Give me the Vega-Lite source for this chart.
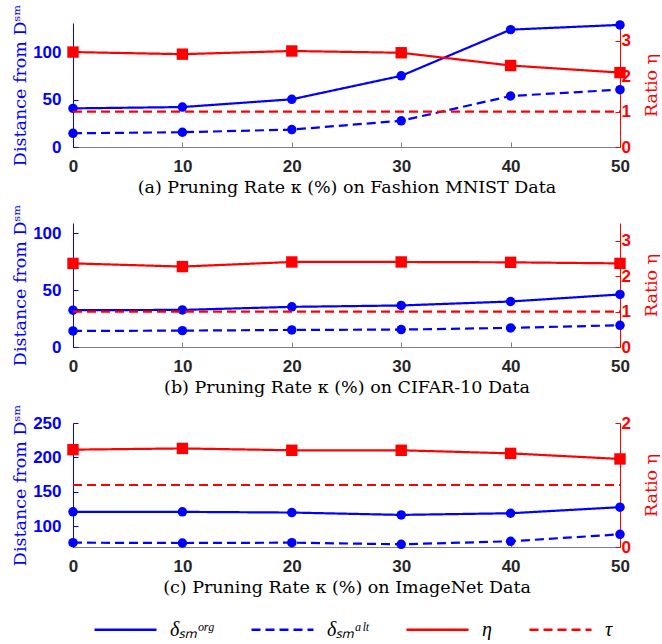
{
  "$schema": "https://vega.github.io/schema/vega-lite/v6.json",
  "background": "white",
  "padding": {"left": 10, "right": 0, "top": 4, "bottom": 0},
  "spacing": 8,
  "data": {"values": [
    {"p":"a","s":"org","k":0,"v":40.8},{"p":"a","s":"org","k":10,"v":42.2},{"p":"a","s":"org","k":20,"v":50.4},{"p":"a","s":"org","k":30,"v":75.2},{"p":"a","s":"org","k":40,"v":124},{"p":"a","s":"org","k":50,"v":129},
    {"p":"a","s":"alt","k":0,"v":14.5},{"p":"a","s":"alt","k":10,"v":15.6},{"p":"a","s":"alt","k":20,"v":18.4},{"p":"a","s":"alt","k":30,"v":27.7},{"p":"a","s":"alt","k":40,"v":53.9},{"p":"a","s":"alt","k":50,"v":60.6},
    {"p":"a","s":"eta","k":0,"v":2.68},{"p":"a","s":"eta","k":10,"v":2.62},{"p":"a","s":"eta","k":20,"v":2.71},{"p":"a","s":"eta","k":30,"v":2.66},{"p":"a","s":"eta","k":40,"v":2.30},{"p":"a","s":"eta","k":50,"v":2.10},
    {"p":"a","s":"tau","k":0,"v":1},{"p":"a","s":"tau","k":50,"v":1},
    {"p":"b","s":"org","k":0,"v":32.4},{"p":"b","s":"org","k":10,"v":32.6},{"p":"b","s":"org","k":20,"v":35.3},{"p":"b","s":"org","k":30,"v":36.5},{"p":"b","s":"org","k":40,"v":40.0},{"p":"b","s":"org","k":50,"v":46.2},
    {"p":"b","s":"alt","k":0,"v":14.1},{"p":"b","s":"alt","k":10,"v":14.4},{"p":"b","s":"alt","k":20,"v":15.0},{"p":"b","s":"alt","k":30,"v":15.3},{"p":"b","s":"alt","k":40,"v":16.8},{"p":"b","s":"alt","k":50,"v":19.1},
    {"p":"b","s":"eta","k":0,"v":2.36},{"p":"b","s":"eta","k":10,"v":2.27},{"p":"b","s":"eta","k":20,"v":2.40},{"p":"b","s":"eta","k":30,"v":2.40},{"p":"b","s":"eta","k":40,"v":2.39},{"p":"b","s":"eta","k":50,"v":2.36},
    {"p":"b","s":"tau","k":0,"v":1},{"p":"b","s":"tau","k":50,"v":1},
    {"p":"c","s":"org","k":0,"v":121},{"p":"c","s":"org","k":10,"v":121},{"p":"c","s":"org","k":20,"v":120},{"p":"c","s":"org","k":30,"v":116.6},{"p":"c","s":"org","k":40,"v":119},{"p":"c","s":"org","k":50,"v":127.8},
    {"p":"c","s":"alt","k":0,"v":76.3},{"p":"c","s":"alt","k":10,"v":75.8},{"p":"c","s":"alt","k":20,"v":76.3},{"p":"c","s":"alt","k":30,"v":73.9},{"p":"c","s":"alt","k":40,"v":78.3},{"p":"c","s":"alt","k":50,"v":88.4},
    {"p":"c","s":"eta","k":0,"v":1.57},{"p":"c","s":"eta","k":10,"v":1.59},{"p":"c","s":"eta","k":20,"v":1.56},{"p":"c","s":"eta","k":30,"v":1.56},{"p":"c","s":"eta","k":40,"v":1.51},{"p":"c","s":"eta","k":50,"v":1.42},
    {"p":"c","s":"tau","k":0,"v":1},{"p":"c","s":"tau","k":50,"v":1}
  ]},
  "vconcat": [
    {
      "width": 547, "height": 124,
      "transform": [{"filter": "datum.p == 'a'"}],
      "layer": [
        {
          "transform": [{"filter": "datum.s == 'org' || datum.s == 'alt'"}],
          "encoding": {
            "x": {"field": "k", "type": "quantitative", "scale": {"domain": [0, 50]}, "axis": {"values": [0,10,20,30,40,50], "title": "(a) Pruning Rate κ (%) on Fashion MNIST Data"}},
            "y": {"field": "v", "type": "quantitative", "scale": {"domain": [0, 131], "nice": false, "zero": false}, "axis": {"orient": "left", "values": [0,50,100], "title": "Distance from Dˢᵐ"}}
          },
          "layer": [
            {"mark": {"type": "line", "strokeWidth": 2.2}, "encoding": {
              "color": {"field": "s", "type": "nominal", "scale": {"domain": ["org","alt","eta","tau"], "range": ["#0000ff","#0000ff","#ff0000","#ff0000"]}, "legend": {"orient": "none", "legendX": 20, "legendY": 574, "direction": "horizontal", "title": null, "symbolType": "stroke", "symbolSize": 3844, "symbolStrokeWidth": 2.5, "labelFont": "Liberation Serif", "labelFontStyle": "italic", "labelFontSize": 20, "labelColor": "black", "columnPadding": 32, "labelOffset": 12, "labelExpr": "datum.value == 'org' ? 'δₛₘᵒʳᵍ' : datum.value == 'alt' ? 'δₛₘᵃˡᵗ' : datum.value == 'eta' ? 'η' : 'τ'"}},
              "strokeDash": {"field": "s", "type": "nominal", "scale": {"domain": ["org","alt","eta","tau"], "range": [[1,0],[9,5],[1,0],[9,5]]}, "legend": {"orient": "none", "legendX": 20, "legendY": 574, "direction": "horizontal", "title": null, "symbolType": "stroke", "symbolSize": 3844, "symbolStrokeWidth": 2.5, "labelFont": "Liberation Serif", "labelFontStyle": "italic", "labelFontSize": 20, "labelColor": "black", "columnPadding": 32, "labelOffset": 12, "labelExpr": "datum.value == 'org' ? 'δₛₘᵒʳᵍ' : datum.value == 'alt' ? 'δₛₘᵃˡᵗ' : datum.value == 'eta' ? 'η' : 'τ'"}}
            }},
            {"mark": {"type": "point", "filled": true, "shape": "circle", "size": 90, "color": "#0000ff", "opacity": 1}}
          ]
        },
        {
          "transform": [{"filter": "datum.s == 'eta' || datum.s == 'tau'"}],
          "encoding": {
            "x": {"field": "k", "type": "quantitative", "scale": {"domain": [0, 50]}},
            "y": {"field": "v", "type": "quantitative", "scale": {"domain": [0, 3.5], "nice": false, "zero": false}, "axis": {"orient": "right", "values": [0,1,2,3], "format": "d", "title": "Ratio η"}}
          },
          "layer": [
            {"mark": {"type": "line", "strokeWidth": 2.2}, "encoding": {
              "color": {"field": "s", "type": "nominal"},
              "strokeDash": {"field": "s", "type": "nominal"}
            }},
            {"transform": [{"filter": "datum.s == 'eta'"}], "mark": {"type": "point", "filled": true, "shape": "square", "size": 130, "color": "#ff0000", "opacity": 1}}
          ]
        }
      ],
      "resolve": {"scale": {"y": "independent"}}
    },
    {
      "width": 547, "height": 124,
      "transform": [{"filter": "datum.p == 'b'"}],
      "layer": [
        {
          "transform": [{"filter": "datum.s == 'org' || datum.s == 'alt'"}],
          "encoding": {
            "x": {"field": "k", "type": "quantitative", "scale": {"domain": [0, 50]}, "axis": {"values": [0,10,20,30,40,50], "title": "(b) Pruning Rate κ (%) on CIFAR-10 Data"}},
            "y": {"field": "v", "type": "quantitative", "scale": {"domain": [0, 109], "nice": false, "zero": false}, "axis": {"orient": "left", "values": [0,50,100], "title": "Distance from Dˢᵐ"}}
          },
          "layer": [
            {"mark": {"type": "line", "strokeWidth": 2.2}, "encoding": {
              "color": {"field": "s", "type": "nominal"},
              "strokeDash": {"field": "s", "type": "nominal"}
            }},
            {"mark": {"type": "point", "filled": true, "shape": "circle", "size": 90, "color": "#0000ff", "opacity": 1}}
          ]
        },
        {
          "transform": [{"filter": "datum.s == 'eta' || datum.s == 'tau'"}],
          "encoding": {
            "x": {"field": "k", "type": "quantitative", "scale": {"domain": [0, 50]}},
            "y": {"field": "v", "type": "quantitative", "scale": {"domain": [0, 3.5], "nice": false, "zero": false}, "axis": {"orient": "right", "values": [0,1,2,3], "format": "d", "title": "Ratio η"}}
          },
          "layer": [
            {"mark": {"type": "line", "strokeWidth": 2.2}, "encoding": {
              "color": {"field": "s", "type": "nominal"},
              "strokeDash": {"field": "s", "type": "nominal"}
            }},
            {"transform": [{"filter": "datum.s == 'eta'"}], "mark": {"type": "point", "filled": true, "shape": "square", "size": 130, "color": "#ff0000", "opacity": 1}}
          ]
        }
      ],
      "resolve": {"scale": {"y": "independent"}}
    },
    {
      "width": 547, "height": 124,
      "transform": [{"filter": "datum.p == 'c'"}],
      "layer": [
        {
          "transform": [{"filter": "datum.s == 'org' || datum.s == 'alt'"}],
          "encoding": {
            "x": {"field": "k", "type": "quantitative", "scale": {"domain": [0, 50]}, "axis": {"values": [0,10,20,30,40,50], "title": "(c) Pruning Rate κ (%) on ImageNet Data"}},
            "y": {"field": "v", "type": "quantitative", "scale": {"domain": [70, 250], "nice": false, "zero": false}, "axis": {"orient": "left", "values": [100,150,200,250], "title": "Distance from Dˢᵐ"}}
          },
          "layer": [
            {"mark": {"type": "line", "strokeWidth": 2.2}, "encoding": {
              "color": {"field": "s", "type": "nominal"},
              "strokeDash": {"field": "s", "type": "nominal"}
            }},
            {"mark": {"type": "point", "filled": true, "shape": "circle", "size": 90, "color": "#0000ff", "opacity": 1}}
          ]
        },
        {
          "transform": [{"filter": "datum.s == 'eta' || datum.s == 'tau'"}],
          "encoding": {
            "x": {"field": "k", "type": "quantitative", "scale": {"domain": [0, 50]}},
            "y": {"field": "v", "type": "quantitative", "scale": {"domain": [0, 2], "nice": false, "zero": false}, "axis": {"orient": "right", "values": [0,1,2], "format": "d", "title": "Ratio η"}}
          },
          "layer": [
            {"mark": {"type": "line", "strokeWidth": 2.2}, "encoding": {
              "color": {"field": "s", "type": "nominal"},
              "strokeDash": {"field": "s", "type": "nominal"}
            }},
            {"transform": [{"filter": "datum.s == 'eta'"}], "mark": {"type": "point", "filled": true, "shape": "square", "size": 130, "color": "#ff0000", "opacity": 1}}
          ]
        }
      ],
      "resolve": {"scale": {"y": "independent"}}
    }
  ],
  "config": {
    "view": {"stroke": null},
    "axis": {"grid": false, "labelFont": "Liberation Sans", "labelFontWeight": "bold", "labelFontSize": 17, "titleFont": "DejaVu Serif", "titleFontWeight": "normal", "titleFontSize": 17.5, "tickSize": -5},
    "axisX": {"labelFlush": false, "domainColor": "#808080", "tickColor": "#808080", "labelColor": "#262626", "labelPadding": 16, "titleColor": "black", "titlePadding": 4},
    "axisLeft": {"domainColor": "#0000ff", "tickColor": "#0000ff", "labelColor": "#0000ff", "titleColor": "#0000ff", "labelPadding": 17, "titleX": -53, "titleY": 62, "titleAngle": 270, "titleAlign": "center", "titleBaseline": "middle"},
    "axisRight": {"domainColor": "#ff0000", "tickColor": "#ff0000", "labelColor": "#ff0000", "titleColor": "#ff0000", "labelPadding": 6, "titleX": 31, "titleY": 62, "titleAngle": 270, "titleAlign": "center", "titleBaseline": "middle"}
  }
}
